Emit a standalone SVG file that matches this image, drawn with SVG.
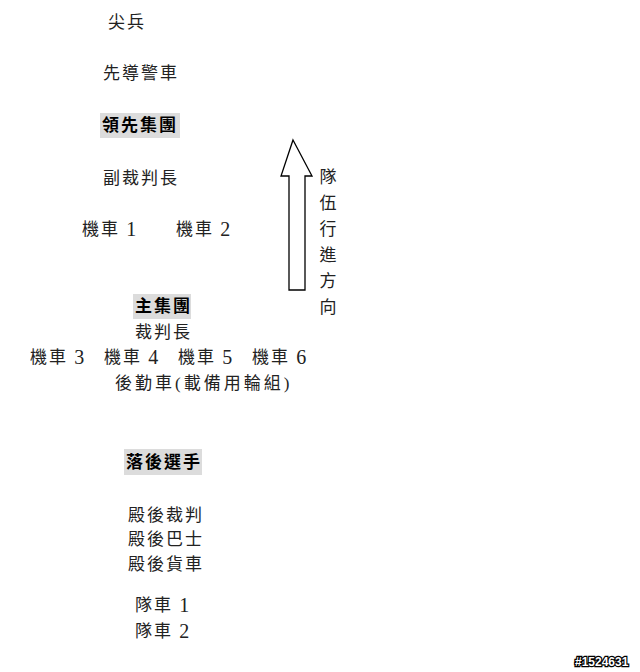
<svg xmlns="http://www.w3.org/2000/svg" width="640" height="672" viewBox="0 0 640 672">
<style>
text{font-family:"Liberation Serif","Noto Sans CJK TC",serif;font-size:17px;fill:#222;letter-spacing:2px;dominant-baseline:central}
.d{font-size:20px;letter-spacing:0}
.b{font-weight:bold;fill:#000}
.hl{fill:#dcdcdc}
.v{text-anchor:middle;letter-spacing:0}
.wm{font-family:"Liberation Sans",sans-serif;font-size:12px;font-weight:bold;fill:#fff;stroke:#000;stroke-width:2.4px;paint-order:stroke;letter-spacing:0}
</style>
<rect width="640" height="672" fill="#fff"/>
<g id="n-jianbing"><text x="108" y="22">尖兵</text></g>
<g id="n-xiandao"><text x="103" y="73">先導警車</text></g>
<g id="n-lingxian"><rect class="hl" x="100" y="113" width="80" height="25"/><text class="b" x="102" y="125">領先集團</text></g>
<g id="n-fucaipan"><text x="103" y="178">副裁判長</text></g>
<g id="n-moto12"><text x="82" y="229">機車 <tspan class="d">1</tspan></text><text x="176" y="229">機車 <tspan class="d">2</tspan></text></g>
<g id="n-zhujituan"><rect class="hl" x="133" y="294" width="58" height="25"/><text class="b" x="135" y="306">主集團</text></g>
<g id="n-caipan"><text x="135" y="332">裁判長</text></g>
<g id="n-moto3456"><text x="30" y="357">機車 <tspan class="d">3</tspan></text><text x="104" y="357">機車 <tspan class="d">4</tspan></text><text x="178" y="357">機車 <tspan class="d">5</tspan></text><text x="252" y="357">機車 <tspan class="d">6</tspan></text></g>
<g id="n-houqin"><text x="115" y="383" style="letter-spacing:3px">後勤車(載備用輪組)</text></g>
<g id="n-luohou"><rect class="hl" x="124" y="449" width="78" height="26"/><text class="b" x="126" y="462">落後選手</text></g>
<g id="n-dianhou"><text x="128" y="515">殿後裁判</text><text x="128" y="539">殿後巴士</text><text x="128" y="564">殿後貨車</text></g>
<g id="n-duiche"><text x="135" y="605">隊車 <tspan class="d">1</tspan></text><text x="135" y="631">隊車 <tspan class="d">2</tspan></text></g>
<g id="connectors"><path d="M293,140 L312,176 L305,176 L305,290 L289,290 L289,176 L281,176 Z" fill="#fff" stroke="#000" stroke-width="1.3" stroke-linejoin="miter"/></g>
<g id="n-direction"><text class="v" x="328" y="177">隊</text><text class="v" x="328" y="203">伍</text><text class="v" x="328" y="229">行</text><text class="v" x="328" y="255">進</text><text class="v" x="328" y="281">方</text><text class="v" x="328" y="307">向</text></g>
<text class="wm" x="575" y="662">#1524631</text>
</svg>
